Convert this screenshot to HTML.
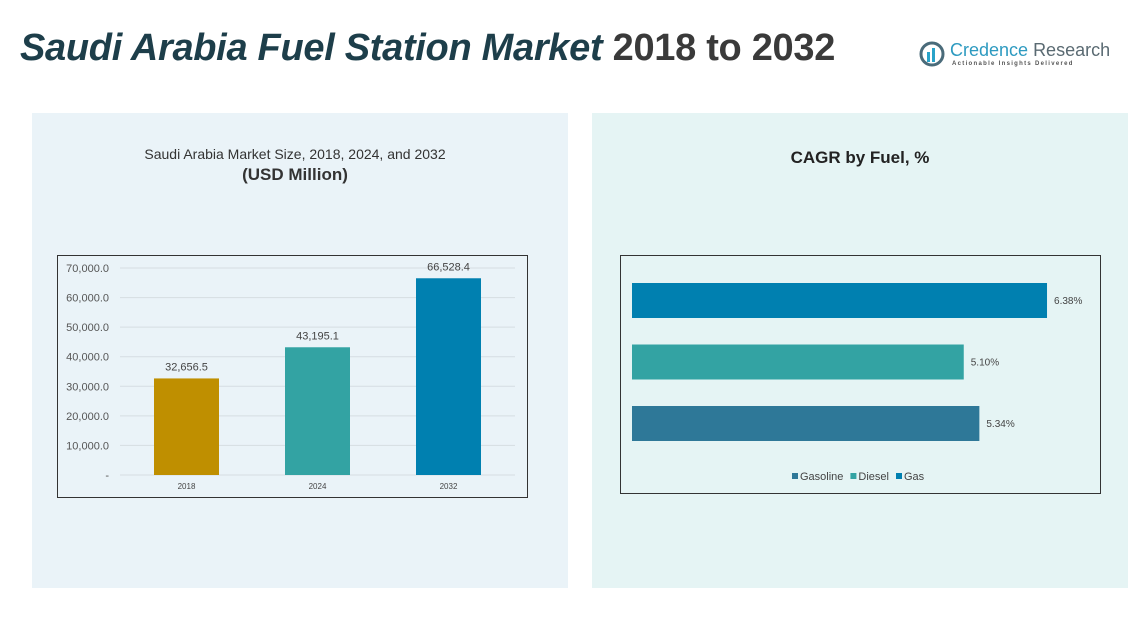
<!DOCTYPE html>
<html><head><meta charset="utf-8"><style>
body{margin:0;width:1147px;height:628px;background:#fff;font-family:"Liberation Sans",sans-serif;position:relative;overflow:hidden}
.abs{position:absolute}
</style></head><body>
<div class="abs" style="left:20px;top:27px;font-size:38px;font-weight:bold;white-space:nowrap;letter-spacing:-0.3px"><span style="font-style:italic;color:#1d3e4a">Saudi Arabia Fuel Station Market</span> <span style="color:#3a3a3a">2018 to 2032</span></div>
<div class="abs" style="left:918px;top:40px;width:185px;height:30px">
<svg width="28" height="28" style="position:absolute;left:0;top:0"><circle cx="14" cy="14" r="11" fill="none" stroke="#4a6b7a" stroke-width="3"/><rect x="9" y="12" width="3" height="10" fill="#29a3c9"/><rect x="14" y="8" width="3" height="14" fill="#29a3c9"/></svg>
<div class="abs" style="left:32px;top:0;font-size:18px;color:#2d9ac0;white-space:nowrap">Credence <span style="color:#5a6a72">Research</span></div>
<div class="abs" style="left:34px;top:21px;font-size:6px;color:#555;letter-spacing:1.3px;white-space:nowrap;font-weight:bold">Actionable Insights Delivered</div>
</div>
<div class="abs" style="left:32px;top:113px;width:536px;height:475px;background:#eaf3f8"></div>
<div class="abs" style="left:592px;top:113px;width:536px;height:475px;background:#e5f4f4"></div>
<div class="abs" style="left:32px;top:146px;width:536px;text-align:center;font-size:14px;color:#333"><div style="margin-left:-10px">Saudi Arabia Market Size, 2018, 2024, and 2032</div><div style="font-weight:bold;font-size:17px;margin-top:3px;margin-left:-10px">(USD Million)</div></div>
<div class="abs" style="left:592px;top:148px;width:536px;text-align:center;font-size:17px;font-weight:bold;color:#222">CAGR by Fuel, %</div>
<svg class="abs" id="chart" style="left:0;top:0" width="1147" height="628"></svg>
<script>
const years=["2018","2024","2032"];
const marketValues=[32656.5,43195.1,66528.4];
const yTicks=[0,10000,20000,30000,40000,50000,60000,70000];
const fuels=["Gas","Diesel","Gasoline"];
const cagrValues=[6.38,5.10,5.34];
const legendFuels=["Gasoline","Diesel","Gas"];
const ns="http://www.w3.org/2000/svg";
const svg=document.getElementById('chart');
function mk(t,a,txt){const e=document.createElementNS(ns,t);for(const k in a)e.setAttribute(k,a[k]);if(txt!==undefined)e.textContent=txt;svg.appendChild(e);return e;}
let b=mk('rect',{x:57.5,y:255.5,width:470,height:242,fill:'none',stroke:'#333','stroke-width':1});

const y0=475,yTop=268,yMax=70000;
const ys=v=>y0-(v/yMax)*(y0-yTop);
yTicks.forEach(t=>{
 let l=mk('line',{x1:120,x2:515,y1:ys(t),y2:ys(t),stroke:'#d5dde2','stroke-width':1});
 
 let tx=mk('text',{x:109,y:ys(t)+4,'text-anchor':'end','font-size':11,fill:'#555'},t===0?'-':t.toLocaleString('en-US',{minimumFractionDigits:1}));
 
});
const barColors=["#bf8f00","#33a3a3","#0080b0"];
const xc=i=>186.5+i*131,bw=65;
years.forEach((yr,i)=>{
 let r=mk('rect',{x:xc(i)-bw/2,y:ys(marketValues[i]),width:bw,height:y0-ys(marketValues[i]),fill:barColors[i]});
 
 let v=mk('text',{x:xc(i),y:ys(marketValues[i])-8,'text-anchor':'middle','font-size':11,fill:'#444'},marketValues[i].toLocaleString('en-US',{minimumFractionDigits:1}));
 
 let x=mk('text',{x:xc(i),y:489,'text-anchor':'middle','font-size':8,fill:'#444'},yr);
 
});
let b2=mk('rect',{x:620.5,y:255.5,width:480,height:238,fill:'none',stroke:'#333','stroke-width':1});

const x0=632,pxPer=65.05;
const hColors=["#0080b0","#33a3a3","#2e7898"];
const rowY=i=>283+i*61.5,bh=35;
fuels.forEach((f,i)=>{
 let r=mk('rect',{x:x0,y:rowY(i),width:cagrValues[i]*pxPer,height:bh,fill:hColors[i]});
 
 let t=mk('text',{x:x0+cagrValues[i]*pxPer+7,y:rowY(i)+21,'font-size':10,fill:'#444'},cagrValues[i].toFixed(2)+'%');
 
});
const legColors={Gasoline:"#2e7898",Diesel:"#33a3a3",Gas:"#0080b0"};
let lx=792;
legendFuels.forEach(f=>{
 let s=mk('rect',{x:lx,y:473,width:6,height:6,fill:legColors[f]});
 
 let t=mk('text',{x:lx+8,y:480,'font-size':11,fill:'#444'},f);
 
 lx+=8+t.getComputedTextLength()+7;
});
</script>
</body></html>
